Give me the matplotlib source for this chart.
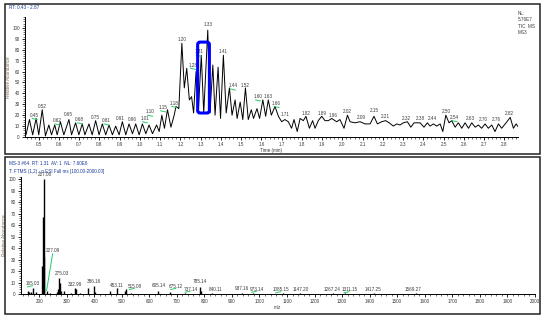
import numpy as np
import matplotlib.pyplot as plt
from matplotlib.patches import FancyBboxPatch, Rectangle
from matplotlib.ticker import MultipleLocator

plt.rcParams['font.family'] = ['Liberation Sans', 'DejaVu Sans']

# TIC chromatogram (time, relative abundance)
rt = [0.429, 0.437, 0.454, 0.470, 0.487, 0.500, 0.517, 0.533, 0.550, 0.563,
      0.579, 0.591, 0.607, 0.624, 0.649, 0.662, 0.682, 0.698, 0.715, 0.728,
      0.748, 0.764, 0.781, 0.798, 0.814, 0.831, 0.847, 0.864, 0.880, 0.897,
      0.913, 0.930, 0.946, 0.963, 0.979, 0.996, 1.012, 1.029, 1.045, 1.062,
      1.082, 1.095, 1.108, 1.121, 1.136, 1.153, 1.169, 1.178, 1.192, 1.207,
      1.219, 1.231, 1.244, 1.255, 1.265, 1.277, 1.288, 1.303, 1.315, 1.335,
      1.346, 1.360, 1.371, 1.386, 1.398, 1.412, 1.426, 1.442, 1.455, 1.470,
      1.480, 1.495, 1.508, 1.521, 1.535, 1.550, 1.561, 1.578, 1.591, 1.607,
      1.621, 1.634, 1.649, 1.667, 1.684, 1.700, 1.716, 1.733, 1.749, 1.761,
      1.777, 1.791, 1.807, 1.820, 1.837, 1.853, 1.865, 1.881, 1.898, 1.914,
      1.931, 1.947, 1.972, 1.988, 2.008, 2.025, 2.038, 2.062, 2.087, 2.112,
      2.137, 2.156, 2.173, 2.194, 2.214, 2.231, 2.252, 2.269, 2.285, 2.301,
      2.321, 2.338, 2.354, 2.384, 2.403, 2.420, 2.433, 2.450, 2.466, 2.483,
      2.496, 2.511, 2.527, 2.540, 2.557, 2.573, 2.590, 2.606, 2.623, 2.639,
      2.656, 2.672, 2.688, 2.705, 2.721, 2.738, 2.754, 2.771, 2.787, 2.800,
      2.817, 2.829, 2.845, 2.858, 2.870]
tic = [8, 2, 16, 2, 17, 2, 25, 1, 11, 2,
       11, 2, 14, 2, 16, 2, 13, 2, 12, 2,
       12, 2, 15, 2, 12, 2, 11, 2, 10, 2,
       14, 2, 12, 3, 12, 2, 12, 3, 11, 3,
       11, 5, 20, 8, 25, 9, 20, 28, 26, 86,
       45, 63, 34, 37, 22, 60, 22, 75, 22, 98,
       22, 66, 20, 64, 17, 75, 22, 45, 20, 34,
       17, 32, 16, 45, 16, 25, 17, 26, 17, 34,
       19, 34, 20, 28, 19, 14, 16, 14, 8, 16,
       5, 17, 15, 19, 8, 15, 8, 15, 19, 15,
       15, 17, 14, 16, 8, 20, 14, 13, 14, 12,
       12, 19, 12, 14, 15, 13, 10, 12, 11, 13,
       14, 9, 13, 13, 9, 13, 10, 12, 10, 12,
       5, 20, 13, 15, 9, 13, 8, 13, 8, 13,
       9, 11, 8, 12, 8, 11, 5, 12, 8, 11,
       15, 18, 8, 12, 9]

# peak labels on the chromatogram: text, x, y, has green leader
rt_labels = ['0.45', '0.52', '0.62', '0.65', '0.68', '0.75', '0.81', '0.91', '0.96', '1.01',
             '1.10', '1.15', '1.18', '1.20', '1.28', '1.31', '1.33', '1.41', '1.44', '1.52',
             '1.60', '1.63', '1.66', '1.71', '1.82', '1.89', '1.96', '2.02', '2.09', '2.15',
             '2.21', '2.32', '2.38', '2.44', '2.50', '2.54', '2.63', '2.70', '2.76', '2.82']
rt_lab_x = [0.480, 0.517, 0.591, 0.644, 0.703, 0.781, 0.834, 0.905, 0.963, 1.024,
            1.050, 1.115, 1.169, 1.207, 1.262, 1.290, 1.335, 1.409, 1.459, 1.521,
            1.583, 1.632, 1.675, 1.716, 1.820, 1.898, 1.955, 2.025, 2.095, 2.156,
            2.214, 2.318, 2.384, 2.445, 2.511, 2.554, 2.634, 2.697, 2.763, 2.825]
rt_lab_y = [20, 28, 15, 21, 16, 18, 15, 17, 16, 17,
            23, 27, 31, 89, 66, 78, 103, 78, 47, 47,
            37, 37, 31, 21, 22, 22, 20, 23, 18, 24,
            19, 17, 17, 17, 23, 18, 17, 16, 16, 22]
rt_lab_green = ['0.45', '0.62', '0.68', '0.81', '1.01', '1.10', '1.15', '1.18', '1.28',
                '1.31', '1.44', '1.60', '1.66', '2.54']

# mass spectrum at RT 1.31
mz = [160, 164, 169, 178, 190, 212, 215, 217.06, 219, 227.09, 239, 265, 269, 273, 276,
      281, 290, 317, 332, 335, 348, 378, 400, 404, 456, 481, 511, 517, 532, 632,
      676, 728, 783, 787, 829, 936, 976, 1085, 1147, 1267, 1311, 1417, 1569]
ab = [3, 2, 2, 5, 2, 24, 67, 100, 32, 3, 1, 2, 4, 14, 10,
      3, 3, 1, 5, 4, 1, 5, 7, 2, 3, 5, 3, 4, 1, 3,
      2, 1, 6, 3, 1, 1, 1, 0.8, 0.6, 0.6, 0.8, 0.6, 0.5]

ms_labels = ['217.06', '227.09', '165.03', '275.03', '332.99', '386.16', '453.11', '515.08',
             '605.14', '675.12', '737.14', '785.14', '840.11', '937.16', '973.14', '1085.15',
             '1147.20', '1267.24', '1311.15', '1417.25', '1569.27']
ms_lab_x = [221, 251, 178, 281, 329, 399, 480, 547, 634, 698, 750, 783, 841, 936, 992,
            1079, 1151, 1262, 1327, 1411, 1556]
ms_lab_y = [103.5, 38, 8.7, 18, 8.4, 10.7, 7.8, 6.4, 7, 6.4, 4, 10.7, 4, 5, 4,
            3.5, 3.5, 3.5, 3.5, 3.5, 3.5]
ms_lab_green = ['165.03', '515.08', '675.12', '737.14', '973.14', '1085.15', '1311.15']

fs = 3.3
tc = '#3a3a3a'
green = '#22cc66'

fig = plt.figure(figsize=(5.5, 3.21), dpi=100)

# ---- chromatogram ----
ax1 = fig.add_axes([0.0447, 0.5732, 0.898, 0.3738])
ax1.plot(rt, tic, color='black', lw=0.7)
ax1.set_xlim(0.43, 2.87)
ax1.set_ylim(0, 110)
ax1.set_yticks(range(0, 101, 10))
ax1.set_xticks(np.arange(0.5, 2.81, 0.1))
ax1.set_xticklabels(['%.1f' % v for v in np.arange(0.5, 2.81, 0.1)])
ax1.xaxis.set_minor_locator(MultipleLocator(0.02))
ax1.yaxis.set_minor_locator(MultipleLocator(2))
ax1.set_xlabel('Time (min)', fontsize=fs, color=tc, labelpad=1)
ax1.set_ylabel('Relative Abundance', fontsize=fs, color='#7a6a50', labelpad=1)
for lab, x, y in zip(rt_labels, rt_lab_x, rt_lab_y):
    ax1.text(x, y, lab, fontsize=fs, color=tc, ha='center', va='center')
    if lab in rt_lab_green:
        ax1.plot([x - 0.012, x + 0.012], [y - 3, y - 4], color=green, lw=0.7)
# highlighted scan
box = FancyBboxPatch((1.285, 22), 0.058, 65, boxstyle='round,pad=0,rounding_size=0.012',
                     mutation_aspect=186, fill=False, ec='#0000ff', lw=2.2, zorder=5)
ax1.add_patch(box)

# ---- mass spectrum ----
ax2 = fig.add_axes([0.0376, 0.0841, 0.935, 0.3654])
ax2.vlines(mz, 0, ab, color='black', lw=1.0)
ax2.set_xlim(133, 2000)
ax2.set_ylim(0, 102)
ax2.set_yticks(range(0, 101, 10))
ax2.set_xticks(range(200, 2001, 100))
ax2.xaxis.set_minor_locator(MultipleLocator(20))
ax2.yaxis.set_minor_locator(MultipleLocator(2))
ax2.set_xlabel('m/z', fontsize=fs, color=tc, labelpad=1)
ax2.set_ylabel('Relative Abundance', fontsize=fs, color='#7a6a50', labelpad=1)
for lab, x, y in zip(ms_labels, ms_lab_x, ms_lab_y):
    ax2.text(x, y, lab, fontsize=fs, color=tc, ha='center', va='center')
    if lab in ms_lab_green:
        ax2.plot([x - 20, x - 2], [y - 2.5, y - 1.5], color=green, lw=0.7)
ax2.plot([227.09, 249], [3, 35], color=green, lw=0.7)

for ax in (ax1, ax2):
    for s in ('top', 'right'):
        ax.spines[s].set_visible(False)
    for s in ('left', 'bottom'):
        ax.spines[s].set_linewidth(0.7)
    ax.tick_params(which='major', length=2.5, width=0.6, labelsize=fs, labelcolor=tc, pad=1)
    ax.tick_params(which='minor', length=1.3, width=0.4)

# header texts
fig.text(0.017, 0.977, 'RT: 0.43 - 2.87', fontsize=fs, color='#1a3a9a', va='center')
fig.text(0.942, 0.965, 'NL:\n5.76E7\nTIC  MS\nMS3', fontsize=fs, color=tc, va='top',
         linespacing=1.3)
fig.text(0.017, 0.492, 'MS-3 #64  RT: 1.31  AV: 1  NL: 7.60E6', fontsize=fs,
         color='#1a3a9a', va='center')
fig.text(0.017, 0.467, 'T: FTMS (1,2) - p ESI Full ms [100.00-2000.00]', fontsize=fs,
         color='#1a3a9a', va='center')

# panel frames
fig.add_artist(Rectangle((0.009, 0.5202), 0.972, 0.4673, transform=fig.transFigure,
                         fill=False, ec='#222222', lw=1.1))
fig.add_artist(Rectangle((0.009, 0.0218), 0.972, 0.4892, transform=fig.transFigure,
                         fill=False, ec='#222222', lw=1.1))

fig.savefig('out.png', dpi=100)
